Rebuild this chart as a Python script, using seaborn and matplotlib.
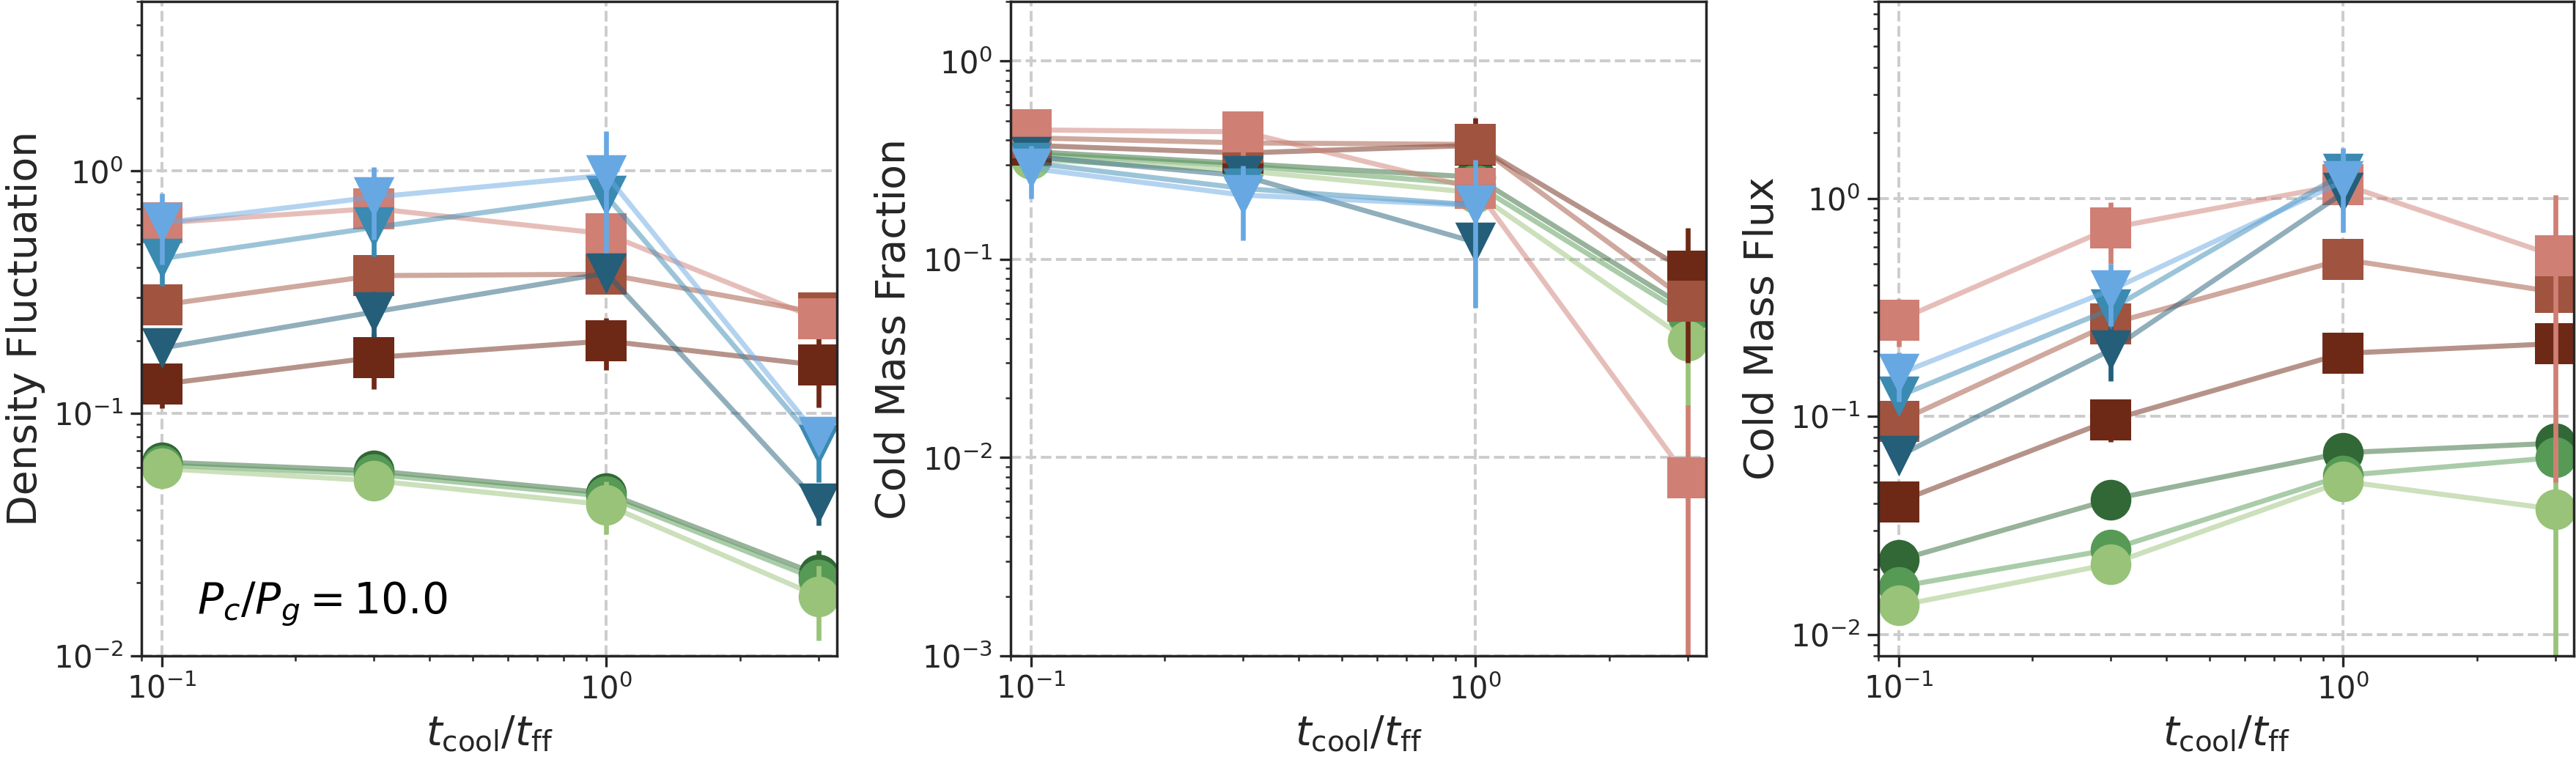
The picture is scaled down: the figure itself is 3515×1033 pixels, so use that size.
import numpy as np
import pandas as pd
import matplotlib
matplotlib.use("Agg")
import matplotlib.pyplot as plt
import seaborn as sns

# ---------------- data ----------------
t_ratio = [0.1, 0.3, 1.0, 3.0]

series_names = ["C_dark", "C_mid", "C_light",
                "S_dark", "S_mid", "S_light",
                "T_dark", "T_mid", "T_light"]
series_colors = ["#316836", "#569a55", "#98c379",
                 "#6e2916", "#a0533f", "#cf7f74",
                 "#245e79", "#3a8ab2", "#68a8e2"]
series_markers = ["o", "o", "o", "s", "s", "s", "v", "v", "v"]

# Panel 1: Density Fluctuation
dens = {
    "C_dark":  [0.063, 0.058, 0.047, 0.0216],
    "C_mid":   [0.0612, 0.0561, 0.0455, 0.0206],
    "C_light": [0.0592, 0.0528, 0.042, 0.0176],
    "S_dark":  [0.132, 0.170, 0.199, 0.158],
    "S_mid":   [0.280, 0.370, 0.375, 0.260],
    "S_light": [0.610, 0.700, 0.550, 0.245],
    "T_dark":  [0.186, 0.262, 0.379, 0.0426],
    "T_mid":   [0.435, 0.585, 0.790, 0.074],
    "T_light": [0.610, 0.780, 0.960, 0.080],
}
dens_err = {
    "C_dark":  [0.0, 0.0, 0.0, 0.0056],
    "C_mid":   [0.0, 0.0, 0.0, 0.0],
    "C_light": [0.0, 0.009, 0.0103, 0.006],
    "S_dark":  [0.027, 0.044, 0.048, 0.052],
    "S_mid":   [0.0, 0.0, 0.0, 0.0],
    "S_light": [0.0, 0.0, 0.0, 0.0],
    "T_dark":  [0.0, 0.056, 0.0, 0.008],
    "T_mid":   [0.10, 0.14, 0.0, 0.022],
    "T_light": [0.20, 0.26, 0.50, 0.0],
}

# Panel 2: Cold Mass Fraction
frac = {
    "C_dark":  [0.350, 0.304, 0.260, 0.0564],
    "C_mid":   [0.340, 0.296, 0.239, 0.052],
    "C_light": [0.320, 0.280, 0.217, 0.039],
    "S_dark":  [0.376, 0.344, 0.376, 0.087],
    "S_mid":   [0.410, 0.387, 0.380, 0.0617],
    "S_light": [0.450, 0.440, 0.228, 0.0079],
    "T_dark":  [0.330, 0.264, 0.122, np.nan],
    "T_mid":   [0.307, 0.228, 0.188, np.nan],
    "T_light": [0.288, 0.211, 0.187, np.nan],
}
frac_err = {
    "C_dark":  [0.0, 0.0, 0.0, 0.0],
    "C_mid":   [0.0, 0.0, 0.0, 0.0],
    "C_light": [0.0, 0.0, 0.0, 0.021],
    "S_dark":  [0.0, 0.0, 0.14, 0.057],
    "S_mid":   [0.0, 0.0, 0.0, 0.0],
    "S_light": [0.0, 0.12, 0.0, 0.0105],
    "T_dark":  [0.0, 0.0, 0.0, np.nan],
    "T_mid":   [0.0, 0.0, 0.0, np.nan],
    "T_light": [0.085, 0.086, 0.13, np.nan],
}

# Panel 3: Cold Mass Flux
flux = {
    "C_dark":  [0.0220, 0.0417, 0.0683, 0.0755],
    "C_mid":   [0.0166, 0.0246, 0.0537, 0.0649],
    "C_light": [0.0136, 0.0211, 0.0505, 0.0376],
    "S_dark":  [0.0407, 0.0965, 0.195, 0.216],
    "S_mid":   [0.095, 0.267, 0.526, 0.372],
    "S_light": [0.277, 0.733, 1.16, 0.545],
    "T_dark":  [0.066, 0.202, 1.06, np.nan],
    "T_mid":   [0.124, 0.311, 1.30, np.nan],
    "T_light": [0.157, 0.380, 1.20, np.nan],
}
flux_err = {
    "C_dark":  [0.0, 0.0, 0.0, 0.0],
    "C_mid":   [0.0, 0.0, 0.0, 0.0],
    "C_light": [0.0, 0.0, 0.0, 0.04],
    "S_dark":  [0.0, 0.02, 0.0, 0.0],
    "S_mid":   [0.0, 0.0, 0.0, 0.0],
    "S_light": [0.068, 0.23, 0.0, 0.495],
    "T_dark":  [0.0, 0.057, 0.0, np.nan],
    "T_mid":   [0.0, 0.0, 0.0, np.nan],
    "T_light": [0.04, 0.12, 0.50, np.nan],
}

ylabels = ["Density Fluctuation", "Cold Mass Fraction", "Cold Mass Flux"]
xlabel = r"$t_{\rm cool}/t_{\rm ff}$"
ylims = [(1e-2, 5.0), (1e-3, 2.0), (8e-3, 8.0)]
xlim = (0.09, 3.3)
annot = r"$P_c/P_g = 10.0$"

# ---------------- style ----------------
sns.set_style("ticks")
plt.rcParams.update({
    "font.family": ["DejaVu Sans"],
    "axes.edgecolor": "#262626",
    "axes.linewidth": 1.25,
    "xtick.color": "#262626",
    "ytick.color": "#262626",
    "xtick.labelsize": 15,
    "ytick.labelsize": 15,
    "xtick.major.size": 5.4,
    "ytick.major.size": 5.4,
    "xtick.minor.size": 2.5,
    "ytick.minor.size": 2.5,
    "xtick.major.width": 1.2,
    "ytick.major.width": 1.2,
    "xtick.minor.width": 0.9,
    "ytick.minor.width": 0.9,
    "axes.labelsize": 20,
    "axes.labelcolor": "#262626",
    "text.color": "#262626",
})

W, H = 3515, 1033
dpi = 200
fig = plt.figure(figsize=(W / dpi, H / dpi), dpi=dpi)

lefts = [193, 1379, 2563]
ax_w = 949
ax_bottom = 1033 - 895
ax_h = 893

panels = [(dens, dens_err), (frac, frac_err), (flux, flux_err)]

for i, (vals, errs) in enumerate(panels):
    ax = fig.add_axes([lefts[i] / W, ax_bottom / H, ax_w / W, ax_h / H])
    ax.set_xscale("log")
    ax.set_yscale("log")
    ax.grid(True, which="major", ls="--", color="#cccccc", lw=1.4)
    ax.set_axisbelow(True)
    for name, col, mk in zip(series_names, series_colors, series_markers):
        df = pd.DataFrame({"x": t_ratio, "y": vals[name], "e": errs[name]}).dropna()
        ax.errorbar(df["x"], df["y"], yerr=df["e"], fmt="none",
                    ecolor=col, elinewidth=2.4, capsize=0, zorder=2)
        sns.scatterplot(data=df, x="x", y="y", ax=ax, marker=mk, s=400,
                        color=col, linewidth=0, zorder=2, legend=False)
        sns.lineplot(data=df, x="x", y="y", ax=ax, color=col, alpha=0.5,
                     lw=2.5, zorder=2, legend=False, sort=False,
                     estimator=None)
    ax.set_xlim(*xlim)
    ax.set_ylim(*ylims[i])
    ax.set_xlabel(xlabel)
    ax.set_ylabel(ylabels[i])
    for s in ax.spines.values():
        s.set_visible(True)
    if i == 0:
        ax.text(0.08, 0.065, annot, transform=ax.transAxes, fontsize=21,
                va="baseline", ha="left", color="black")

fig.savefig("out.png", dpi=dpi)
